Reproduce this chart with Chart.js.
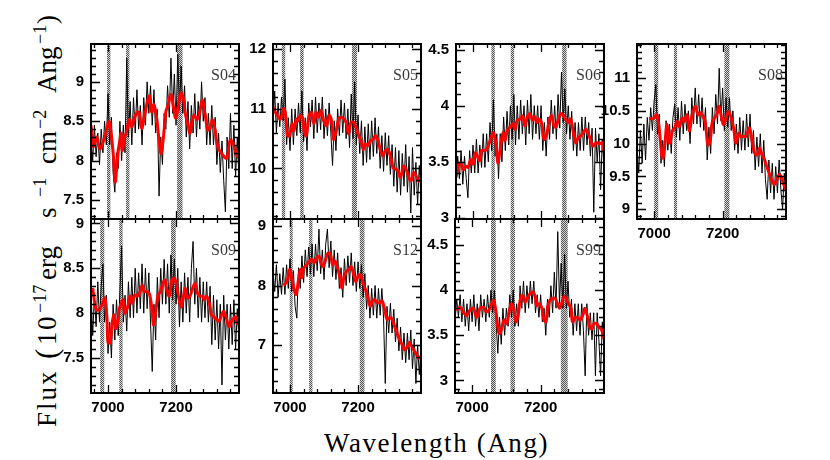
<!DOCTYPE html>
<html>
<head>
<meta charset="utf-8">
<script src="https://cdn.jsdelivr.net/npm/chart.js@4"></script>
<style>
  body { margin: 0; background: #fff; }
  #page { position: relative; width: 830px; height: 460px; overflow: hidden; background: #fff; }
  .panel { position: absolute; }
  #ytitle { position: absolute; left: 57px; top: 427px; transform: rotate(-90deg); transform-origin: 0 0;
            font-family: 'Liberation Serif', serif; color: #000; }
  #ytitle span { position: absolute; white-space: nowrap; line-height: 1; font-size: 27px; top: -23px; }
  #ytitle span.sup { font-size: 18px; top: -26px; }
  #ytitle span.big { font-size: 31px; top: -26px; }
  #xtitle { position: absolute; left: 324px; top: 430px; font-family: 'Liberation Serif', serif;
            font-size: 27px; line-height: 1; letter-spacing: 1.6px; white-space: nowrap; color: #000; }
</style>
</head>
<body>
<div id="page">
  <div id="ytitle">
    <span style="left:0px;letter-spacing:2px">Flux</span>
    <span class="big" style="left:68px">(</span>
    <span style="left:82px;letter-spacing:1.5px">10</span>
    <span class="sup" style="left:114px">&minus;17</span>
    <span style="left:147px">erg</span>
    <span style="left:209px">s</span>
    <span class="sup" style="left:230px">&minus;1</span>
    <span style="left:263px">cm</span>
    <span class="sup" style="left:298px">&minus;2</span>
    <span style="left:334px">Ang</span>
    <span class="sup" style="left:383px">&minus;1</span>
    <span style="left:403px">)</span>
  </div>
  <div id="xtitle">Wavelength (Ang)</div>
</div>
<script>
// wavelength grid of the observed spectra (Ang)
const wlGrid = [
  6950, 6955, 6960, 6965, 6970, 6975, 6980, 6985, 6990, 6995,
  7000, 7005, 7010, 7015, 7020, 7025, 7030, 7035, 7040, 7045,
  7050, 7055, 7060, 7065, 7070, 7075, 7080, 7085, 7090, 7095,
  7100, 7105, 7110, 7115, 7120, 7125, 7130, 7135, 7140, 7145,
  7150, 7155, 7160, 7165, 7170, 7175, 7180, 7185, 7190, 7195,
  7200, 7205, 7210, 7215, 7220, 7225, 7230, 7235, 7240, 7245,
  7250, 7255, 7260, 7265, 7270, 7275, 7280, 7285, 7290, 7295,
  7300, 7305, 7310, 7315, 7320, 7325, 7330, 7335, 7340, 7345,
  7350, 7355, 7360, 7365, 7370, 7375, 7380, 7385
];
const xLabels = [7000, 7200];

// ---- S04 ----
const s04Flux = [
  8.3, 8.0, 8.45, 8.05, 8.35, 7.95, 8.4, 8.1, 8.5, 8.2,
  8.85, 8.2, 8.55, 7.85, 7.6, 8.1, 7.9, 8.5, 8.0, 8.45,
  8.1, 9.3, 8.3, 8.75, 8.2, 8.8, 8.35, 8.9, 8.4, 8.7,
  8.2, 8.8, 8.45, 9.0, 8.6, 8.95, 8.45, 8.9, 8.35, 8.65,
  7.55, 8.3, 7.95, 8.6, 8.4, 8.95, 8.55, 9.3, 8.6, 9.1,
  8.45, 9.35, 8.65, 9.2, 8.6, 8.95, 8.3, 8.75, 8.15, 8.7,
  8.35, 8.85, 8.3, 8.75, 8.4, 9.0, 8.5, 8.8, 8.2, 8.6,
  8.2, 8.7, 8.2, 8.55, 7.95, 8.35, 7.85, 8.25, 7.75, 7.35,
  8.3, 7.9, 8.6, 7.9, 8.45, 7.8, 8.3, 7.75
];
const s04SmoothWl = [6950, 6957, 6967, 6976, 6986, 6996, 7003, 7009, 7016, 7021, 7025, 7030, 7035, 7038, 7042, 7048, 7055, 7062, 7070, 7077,
  7087, 7092, 7099, 7107, 7117, 7122, 7128, 7135, 7143, 7150, 7156, 7163, 7170, 7177, 7185, 7192, 7199, 7207, 7214, 7221,
  7228, 7236, 7241, 7248, 7254, 7261, 7268, 7277, 7285, 7293, 7299, 7307, 7315, 7322, 7334, 7349, 7359, 7368, 7378, 7385];
const s04Smooth = [8.45, 8.18, 8.30, 8.15, 8.24, 8.39, 8.50, 8.35, 8.05, 7.73, 7.88, 8.13, 8.26, 8.35, 8.13, 8.28, 8.37, 8.52, 8.43, 8.54,
  8.62, 8.60, 8.41, 8.56, 8.77, 8.82, 8.62, 8.71, 8.54, 8.26, 8.09, 8.30, 8.62, 8.71, 8.84, 8.69, 8.54, 8.71, 8.86, 8.79,
  8.58, 8.43, 8.35, 8.52, 8.58, 8.52, 8.58, 8.77, 8.60, 8.39, 8.41, 8.52, 8.39, 8.18, 8.09, 8.03, 8.26, 8.22, 8.07, 8.03];
const s04Masks = [[6997, 7007], [7053, 7063], [7203, 7219]];
const s04YLabels = [7.5, 8, 8.5, 9];

// ---- S05 ----
const s05Flux = [
  10.8, 11.3, 10.6, 11.1, 10.7, 11.2, 10.8, 11.5, 10.4, 10.85,
  10.3, 11.0, 10.4, 11.0, 10.55, 11.1, 10.6, 11.3, 10.45, 10.85,
  10.3, 11.1, 10.7, 11.15, 10.5, 11.2, 10.6, 11.1, 10.65, 11.2,
  10.5, 11.0, 10.55, 11.1, 10.6, 10.05, 10.8, 10.3, 11.0, 10.55,
  11.15, 10.6, 11.1, 10.5, 11.0, 10.35, 11.25, 10.5, 11.45, 10.4,
  10.9, 10.25, 10.8, 10.05, 10.7, 10.1, 10.75, 10.15, 10.8, 10.2,
  10.85, 10.25, 10.7, 10.0, 10.55, 9.95, 10.6, 10.05, 10.55, 9.9,
  10.4, 9.7, 10.35, 9.6, 10.3, 9.55, 10.25, 9.7, 10.4, 9.6,
  10.2, 9.25, 10.35, 9.55, 10.1, 9.4, 10.05, 9.5
];
const s05SmoothWl = [6950, 6962, 6972, 6981, 6986, 6993, 6999, 7006, 7011, 7019, 7025, 7030, 7038, 7042, 7048, 7055, 7062, 7070, 7077, 7084,
  7091, 7099, 7107, 7114, 7121, 7128, 7135, 7143, 7150, 7158, 7165, 7172, 7179, 7187, 7195, 7202, 7209, 7215, 7221, 7229,
  7236, 7244, 7251, 7259, 7266, 7273, 7280, 7287, 7295, 7303, 7310, 7317, 7324, 7329, 7334, 7341, 7349, 7356, 7364, 7371, 7378, 7385];
const s05Smooth = [11.03, 10.89, 10.83, 11.00, 10.94, 10.55, 10.55, 10.75, 10.63, 10.83, 10.80, 10.89, 10.83, 10.61, 10.55, 10.86, 10.94, 10.75, 10.94, 10.86,
  10.97, 10.80, 10.72, 10.89, 10.83, 10.49, 10.61, 10.83, 10.86, 10.83, 10.77, 10.58, 10.77, 10.77, 10.66, 10.55, 10.46, 10.32, 10.41, 10.38,
  10.46, 10.49, 10.55, 10.46, 10.30, 10.21, 10.30, 10.32, 10.21, 10.01, 9.99, 9.96, 9.85, 9.93, 10.04, 9.99, 9.85, 9.79, 9.93, 9.87, 9.79, 9.82];
const s05Masks = [[6976, 6986], [7030, 7040], [7182, 7197]];
const s05YLabels = [10, 11, 12];

// ---- S06 ----
const s06Flux = [
  3.3, 3.55, 3.35, 3.6, 3.3, 3.55, 3.35, 3.18, 3.6, 3.4,
  3.65, 3.4, 3.7, 3.4, 3.65, 3.45, 3.75, 3.45, 3.75, 3.5,
  3.85, 3.6, 4.05, 3.55, 3.75, 3.35, 3.75, 3.5, 3.9, 3.6,
  3.95, 3.65, 4.0, 3.7, 4.1, 3.65, 4.0, 3.7, 4.05, 3.75,
  4.0, 3.65, 4.05, 3.75, 4.1, 3.7, 4.0, 3.75, 4.0, 3.7,
  4.0, 3.6, 3.85, 3.55, 3.9, 3.7, 4.05, 3.75, 4.0, 3.7,
  4.1, 3.8, 4.3, 3.85, 4.15, 3.75, 4.0, 3.7, 3.95, 3.6,
  3.85, 3.55, 3.85, 3.6, 3.9, 3.6, 3.9, 3.65, 3.85, 3.55,
  3.8, 3.05, 3.8, 3.5, 3.75, 3.25, 3.7, 3.45
];
const s06SmoothWl = [6950, 6957, 6964, 6972, 6979, 6986, 6993, 7001, 7006, 7013, 7019, 7025, 7032, 7040, 7048, 7055, 7060, 7067, 7073, 7077,
  7084, 7089, 7094, 7101, 7109, 7117, 7123, 7130, 7138, 7146, 7153, 7160, 7168, 7175, 7182, 7189, 7195, 7202, 7209, 7217,
  7224, 7231, 7238, 7244, 7251, 7258, 7266, 7272, 7280, 7287, 7295, 7302, 7310, 7317, 7324, 7331, 7339, 7346, 7352, 7359, 7366, 7373, 7379, 7385];
const s06Smooth = [3.36, 3.46, 3.49, 3.43, 3.46, 3.45, 3.52, 3.48, 3.58, 3.55, 3.51, 3.60, 3.60, 3.61, 3.67, 3.73, 3.76, 3.67, 3.49, 3.55,
  3.70, 3.76, 3.69, 3.78, 3.81, 3.84, 3.79, 3.87, 3.88, 3.91, 3.82, 3.90, 3.93, 3.87, 3.90, 3.85, 3.88, 3.84, 3.70, 3.75,
  3.87, 3.91, 3.82, 3.81, 3.88, 3.93, 3.91, 3.88, 3.85, 3.88, 3.76, 3.67, 3.72, 3.73, 3.76, 3.79, 3.75, 3.69, 3.64, 3.66, 3.67, 3.66, 3.67, 3.60];
const s06Masks = [[7054, 7064], [7111, 7121], [7262, 7275]];
const s06YLabels = [3, 3.5, 4, 4.5];

// ---- S08 ----
const s08Flux = [
  9.95, 9.55, 10.2, 9.7, 10.3, 9.75, 10.4, 10.05, 10.55, 10.2,
  10.65, 10.9, 10.15, 10.45, 9.7, 10.05, 9.65, 10.35, 9.9, 10.3,
  9.85, 10.4, 10.6, 10.1, 10.55, 10.05, 10.65, 10.15, 10.6, 10.2,
  10.5, 10.0, 10.7, 10.3, 10.85, 10.3, 10.75, 10.25, 10.7, 10.2,
  10.55, 9.75, 10.25, 9.85, 10.55, 10.15, 10.75, 10.3, 11.15, 10.35,
  10.85, 10.2, 10.7, 10.25, 10.7, 10.2, 10.5, 9.9, 10.3, 9.85,
  10.4, 9.9, 10.35, 9.9, 10.45, 9.95, 10.45, 9.85, 10.2, 9.6,
  10.1, 9.65, 10.15, 9.55, 10.05, 9.45, 9.15, 9.75, 9.25, 9.7,
  9.15, 9.65, 9.25, 9.75, 9.3, 9.0, 9.55, 9.15
];
const s08SmoothWl = [6985, 6997, 7008, 7016, 7024, 7031, 7037, 7045, 7053, 7060, 7067, 7074, 7082, 7089, 7096, 7103, 7111, 7120, 7128, 7134,
  7142, 7149, 7157, 7164, 7169, 7176, 7183, 7189, 7196, 7202, 7210, 7217, 7225, 7232, 7239, 7247, 7254, 7261, 7268, 7278,
  7286, 7293, 7301, 7307, 7315, 7322, 7329, 7336, 7344, 7351, 7358, 7366, 7372, 7378, 7385];
const s08Smooth = [10.38, 10.38, 10.44, 10.16, 9.78, 9.96, 10.29, 10.01, 10.19, 10.24, 10.34, 10.26, 10.39, 10.34, 10.44, 10.19, 10.44, 10.57, 10.44, 10.47,
  10.42, 10.34, 9.98, 10.06, 10.31, 10.39, 10.44, 10.57, 10.42, 10.29, 10.39, 10.49, 10.39, 10.24, 10.01, 10.16, 10.11, 10.11, 10.11, 10.24,
  10.04, 9.86, 9.83, 9.93, 9.83, 9.76, 9.65, 9.55, 9.43, 9.38, 9.45, 9.53, 9.48, 9.38, 9.30];
const s08Masks = [[7000, 7012], [7058, 7067], [7205, 7220]];
const s08YLabels = [9, 9.5, 10, 10.5, 11];

// ---- S09 ----
const s09Flux = [
  8.25, 7.75, 8.2, 7.85, 8.35, 7.9, 8.3, 8.55, 7.9, 8.2,
  7.55, 7.9, 7.5, 8.1, 7.7, 8.15, 7.75, 8.25, 8.75, 7.9,
  8.2, 7.8, 8.35, 7.95, 8.4, 7.95, 8.5, 8.0, 8.45, 8.05,
  8.55, 8.0, 8.5, 8.05, 8.45, 7.9, 7.35, 8.1, 7.7, 8.4,
  7.95, 8.5, 8.1, 8.6, 8.1, 8.55, 8.0, 8.65, 8.15, 8.6,
  8.1, 8.5, 7.85, 8.35, 7.9, 8.45, 8.0, 8.4, 7.9, 8.5,
  8.8, 8.1, 8.5, 7.95, 8.4, 7.9, 8.35, 7.95, 8.35, 7.9,
  8.3, 7.65, 8.2, 7.7, 8.15, 7.6, 8.1, 7.2, 8.2, 7.7,
  8.1, 7.6, 8.1, 7.65, 8.15, 7.6, 8.05, 7.7
];
const s09SmoothWl = [6955, 6965, 6974, 6984, 6991, 6997, 7000, 7006, 7013, 7018, 7023, 7028, 7033, 7037, 7044, 7049, 7057, 7065, 7071, 7078,
  7086, 7094, 7101, 7107, 7115, 7123, 7130, 7134, 7141, 7147, 7154, 7161, 7167, 7173, 7180, 7188, 7195, 7202, 7209, 7215,
  7222, 7227, 7234, 7241, 7249, 7256, 7263, 7270, 7277, 7283, 7290, 7298, 7304, 7311, 7319, 7326, 7334, 7340, 7348, 7356,
  7363, 7369, 7375, 7379, 7385];
const s09Smooth = [8.28, 8.04, 8.04, 8.11, 8.17, 7.93, 7.67, 7.67, 7.91, 7.98, 7.83, 7.89, 8.04, 8.09, 8.15, 8.00, 8.06, 8.19, 8.11, 8.20,
  8.19, 8.24, 8.31, 8.24, 8.24, 8.20, 8.00, 7.87, 8.04, 8.20, 8.24, 8.33, 8.37, 8.26, 8.19, 8.37, 8.39, 8.30, 8.15, 8.07,
  8.19, 8.28, 8.17, 8.19, 8.28, 8.33, 8.22, 8.19, 8.19, 8.15, 8.19, 8.11, 7.98, 7.96, 7.93, 7.91, 7.98, 8.02, 7.94, 7.85,
  7.91, 7.94, 7.96, 7.89, 7.87];
const s09Masks = [[6977, 6989], [7033, 7043], [7185, 7199]];
const s09YLabels = [7.5, 8, 8.5, 9];

// ---- S12 ----
const s12Flux = [
  8.25, 7.9, 8.35, 7.8, 8.2, 7.85, 8.3, 7.85, 8.35, 7.95,
  8.45, 7.9, 8.25, 7.65, 7.45, 8.3, 7.95, 8.5, 8.05, 8.6,
  8.15, 8.65, 8.2, 8.7, 8.15, 8.7, 8.25, 8.95, 8.2, 8.6,
  8.1, 8.7, 8.95, 8.3, 8.75, 8.15, 8.6, 8.1, 8.55, 7.95,
  8.3, 7.8, 8.45, 8.0, 8.5, 8.05, 8.55, 8.0, 8.4, 7.9,
  8.4, 7.95, 8.35, 7.8, 8.2, 7.6, 8.0, 7.45, 7.95, 7.5,
  8.0, 7.45, 7.95, 7.5, 7.95, 7.45, 6.35, 7.65, 7.2, 7.7,
  7.2, 7.6, 7.05, 7.45, 6.9, 7.3, 6.75, 7.2, 6.7, 7.2,
  6.75, 7.25, 6.6, 7.1, 6.35, 7.0, 6.5, 6.95
];
const s12SmoothWl = [6981, 6991, 6999, 7005, 7012, 7018, 7025, 7030, 7035, 7041, 7049, 7057, 7064, 7071, 7078, 7085, 7091, 7098, 7106, 7112,
  7119, 7125, 7132, 7139, 7147, 7153, 7159, 7166, 7173, 7179, 7185, 7193, 7200, 7207, 7215, 7222, 7229, 7236, 7242, 7249,
  7256, 7263, 7271, 7278, 7285, 7292, 7300, 7307, 7314, 7322, 7329, 7336, 7343, 7351, 7358, 7365, 7372, 7378, 7385];
const s12Smooth = [8.00, 8.07, 8.27, 8.13, 7.93, 7.85, 8.10, 8.27, 8.13, 8.30, 8.35, 8.41, 8.44, 8.38, 8.46, 8.49, 8.38, 8.32, 8.46, 8.55,
  8.52, 8.35, 8.41, 8.32, 8.13, 7.96, 8.16, 8.24, 8.27, 8.32, 8.24, 8.07, 8.16, 8.18, 8.04, 7.93, 7.79, 7.65, 7.74, 7.76,
  7.71, 7.71, 7.74, 7.60, 7.43, 7.46, 7.43, 7.32, 7.20, 7.09, 7.01, 6.92, 6.95, 7.04, 6.98, 6.90, 6.84, 6.78, 6.81];
const s12Masks = [[6999, 7008], [7056, 7066], [7205, 7219]];
const s12YLabels = [7, 8, 9];

// ---- S99 ----
const s99Flux = [
  3.65, 3.9, 3.7, 3.95, 3.65, 3.9, 3.6, 3.85, 3.55, 3.9,
  3.65, 3.95, 3.6, 3.85, 3.55, 3.95, 3.7, 3.9, 3.65, 3.95,
  3.7, 4.0, 3.75, 4.0, 3.65, 3.3, 3.7, 3.4, 3.8, 3.5,
  3.8, 3.6, 3.95, 3.7, 4.0, 3.6, 3.85, 3.6, 4.05, 3.8,
  4.1, 3.75, 4.05, 3.8, 4.1, 3.85, 4.1, 3.75, 3.95, 3.7,
  3.95, 3.65, 3.8, 3.5, 3.9, 3.7, 4.05, 3.75, 4.2, 3.8,
  4.65, 3.85, 4.3, 3.8, 4.4, 3.8, 4.1, 3.7, 3.9, 3.5,
  3.85, 3.55, 3.85, 3.5, 3.85, 3.55, 3.05, 3.85, 3.5, 3.75,
  3.45, 3.75, 3.05, 3.75, 3.45, 3.05, 3.65, 3.35
];
const s99SmoothWl = [6953, 6965, 6974, 6984, 6994, 7004, 7013, 7023, 7033, 7042, 7052, 7062, 7069, 7075, 7079, 7086, 7093, 7101, 7109, 7115,
  7122, 7128, 7135, 7142, 7148, 7154, 7161, 7169, 7177, 7184, 7188, 7195, 7203, 7210, 7216, 7220, 7227, 7235, 7242, 7249,
  7255, 7261, 7268, 7274, 7281, 7288, 7293, 7300, 7307, 7315, 7323, 7329, 7336, 7342, 7349, 7356, 7364, 7370, 7378, 7385];
const s99Smooth = [3.78, 3.81, 3.76, 3.72, 3.78, 3.80, 3.70, 3.80, 3.81, 3.76, 3.80, 3.89, 3.78, 3.59, 3.52, 3.57, 3.67, 3.63, 3.78, 3.85,
  3.78, 3.65, 3.74, 3.93, 3.94, 3.87, 3.91, 3.96, 3.98, 3.93, 3.83, 3.85, 3.81, 3.67, 3.65, 3.81, 3.89, 3.91, 3.91, 3.85,
  3.80, 3.85, 3.93, 3.91, 3.85, 3.81, 3.65, 3.69, 3.70, 3.67, 3.72, 3.80, 3.72, 3.61, 3.57, 3.63, 3.63, 3.59, 3.56, 3.46];
const s99Masks = [[7055, 7069], [7112, 7125], [7259, 7279]];
const s99YLabels = [3, 3.5, 4, 4.5];

// panel layout (page pixels) and axis ranges
const panels = [
  { name: 'S04', left: 91, top: 44, w: 148, h: 175, ymin: 7.26, ymax: 9.48, step: 0.1, xlab: false,
    flux: s04Flux, swl: s04SmoothWl, smooth: s04Smooth, masks: s04Masks, ylab: s04YLabels },
  { name: 'S05', left: 273, top: 44, w: 148, h: 175, ymin: 9.15, ymax: 12.09, step: 0.2, xlab: false,
    flux: s05Flux, swl: s05SmoothWl, smooth: s05Smooth, masks: s05Masks, ylab: s05YLabels },
  { name: 'S06', left: 456, top: 44, w: 148, h: 175, ymin: 2.99, ymax: 4.55, step: 0.1, xlab: false,
    flux: s06Flux, swl: s06SmoothWl, smooth: s06Smooth, masks: s06Masks, ylab: s06YLabels },
  { name: 'S08', left: 637, top: 44, w: 149, h: 175, ymin: 8.85, ymax: 11.52, step: 0.1, xlab: true,
    flux: s08Flux, swl: s08SmoothWl, smooth: s08Smooth, masks: s08Masks, ylab: s08YLabels },
  { name: 'S09', left: 91, top: 219, w: 148, h: 174, ymin: 7.11, ymax: 9.05, step: 0.1, xlab: true,
    flux: s09Flux, swl: s09SmoothWl, smooth: s09Smooth, masks: s09Masks, ylab: s09YLabels },
  { name: 'S12', left: 273, top: 219, w: 148, h: 174, ymin: 6.19, ymax: 9.12, step: 0.2, xlab: true,
    flux: s12Flux, swl: s12SmoothWl, smooth: s12Smooth, masks: s12Masks, ylab: s12YLabels },
  { name: 'S99', left: 455, top: 219, w: 149, h: 174, ymin: 2.86, ymax: 4.79, step: 0.1, xlab: true,
    flux: s99Flux, swl: s99SmoothWl, smooth: s99Smooth, masks: s99Masks, ylab: s99YLabels }
];

const PAD_L = 50, PAD_T = 24, PAD_R = 10, PAD_B = 30;

// hatch used for the masked sky-line regions
const hatch = document.createElement('canvas');
hatch.width = 2; hatch.height = 2;
(() => {
  const g = hatch.getContext('2d');
  g.fillStyle = '#d8d8d8'; g.fillRect(0, 0, 2, 2);
  g.fillStyle = '#505050'; g.fillRect(0, 0, 1, 1); g.fillRect(1, 1, 1, 1);
})();

const smBox = {
  id: 'smBox',
  beforeDatasetsDraw(chart, args, o) {
    const { ctx, chartArea: a, scales: { x } } = chart;
    ctx.save();
    ctx.fillStyle = ctx.createPattern(hatch, 'repeat');
    o.masks.forEach(([lo, hi]) => {
      const x0 = x.getPixelForValue(lo), x1 = x.getPixelForValue(hi);
      ctx.fillRect(x0, a.top, x1 - x0, a.bottom - a.top);
    });
    ctx.restore();
  },
  afterDraw(chart, args, o) {
    const { ctx, chartArea: a, scales: { x, y } } = chart;
    ctx.save();
    ctx.strokeStyle = '#000';
    ctx.lineWidth = 1.3;
    ctx.beginPath();
    // x ticks every 40 Ang, long ones at the labels
    for (let v = 6960; v <= 7385; v += 40) {
      const px = Math.round(x.getPixelForValue(v)) + 0.5;
      const len = xLabels.includes(v) ? 8 : 4;
      ctx.moveTo(px, a.bottom); ctx.lineTo(px, a.bottom - len);
      ctx.moveTo(px, a.top); ctx.lineTo(px, a.top + len);
    }
    const k0 = Math.ceil(o.ymin / o.step - 1e-6), k1 = Math.floor(o.ymax / o.step + 1e-6);
    for (let k = k0; k <= k1; k++) {
      const v = +(k * o.step).toFixed(3);
      const py = Math.round(y.getPixelForValue(v)) + 0.5;
      const len = o.ylab.some(l => Math.abs(l - v) < 1e-6) ? 9 : 5;
      ctx.moveTo(a.left, py); ctx.lineTo(a.left + len, py);
      ctx.moveTo(a.right, py); ctx.lineTo(a.right - len, py);
    }
    ctx.stroke();
    ctx.lineWidth = 2;
    ctx.strokeRect(a.left, a.top, a.right - a.left, a.bottom - a.top);
    ctx.fillStyle = '#3a3a3a';
    ctx.font = '16px "Liberation Serif"';
    ctx.textAlign = 'right';
    ctx.textBaseline = 'alphabetic';
    ctx.fillText(o.name, a.right - 3, a.top + 36);
    ctx.restore();
  }
};

const page = document.getElementById('page');
panels.forEach(p => {
  const div = document.createElement('div');
  div.className = 'panel';
  const W = PAD_L + p.w + PAD_R, H = PAD_T + p.h + PAD_B;
  div.style.left = (p.left - PAD_L) + 'px';
  div.style.top = (p.top - PAD_T) + 'px';
  div.style.width = W + 'px';
  div.style.height = H + 'px';
  const cv = document.createElement('canvas');
  cv.width = W; cv.height = H;
  cv.style.width = W + 'px'; cv.style.height = H + 'px';
  div.appendChild(cv);
  page.appendChild(div);

  const tickFont = { family: '"Liberation Sans", Arial, sans-serif', size: 15, weight: 'bold' };
  new Chart(cv.getContext('2d'), {
    type: 'line',
    data: {
      datasets: [
        {
          data: p.smooth.map((v, i) => ({ x: p.swl[i], y: v })),
          borderColor: '#ff0000', borderWidth: 3, pointRadius: 0, tension: 0.35, order: 0
        },
        {
          data: p.flux.map((v, i) => ({ x: wlGrid[i], y: v })),
          borderColor: '#000', borderWidth: 1, pointRadius: 0, tension: 0, order: 1
        }
      ]
    },
    options: {
      responsive: false,
      animation: false,
      devicePixelRatio: 1,
      layout: { padding: { left: 0, top: PAD_T, right: PAD_R, bottom: 0 } },
      plugins: {
        legend: { display: false },
        tooltip: { enabled: false },
        smBox: { name: p.name, masks: p.masks, ymin: p.ymin, ymax: p.ymax, step: p.step, ylab: p.ylab }
      },
      scales: {
        x: {
          type: 'linear', min: 6950, max: 7385,
          grid: { display: false, drawTicks: false }, border: { display: false },
          ticks: { display: p.xlab, font: tickFont, color: '#000', padding: 6, maxRotation: 0, autoSkip: false,
                   callback: v => String(v) },
          afterBuildTicks: s => { s.ticks = xLabels.map(v => ({ value: v })); },
          afterFit: s => { s.height = PAD_B; }
        },
        y: {
          type: 'linear', min: p.ymin, max: p.ymax,
          grid: { display: false, drawTicks: false }, border: { display: false },
          ticks: { font: tickFont, color: '#000', padding: 7, autoSkip: false, callback: v => String(v) },
          afterBuildTicks: s => { s.ticks = p.ylab.map(v => ({ value: v })); },
          afterFit: s => { s.width = PAD_L; }
        }
      }
    },
    plugins: [smBox]
  });
});
</script>
</body>
</html>
